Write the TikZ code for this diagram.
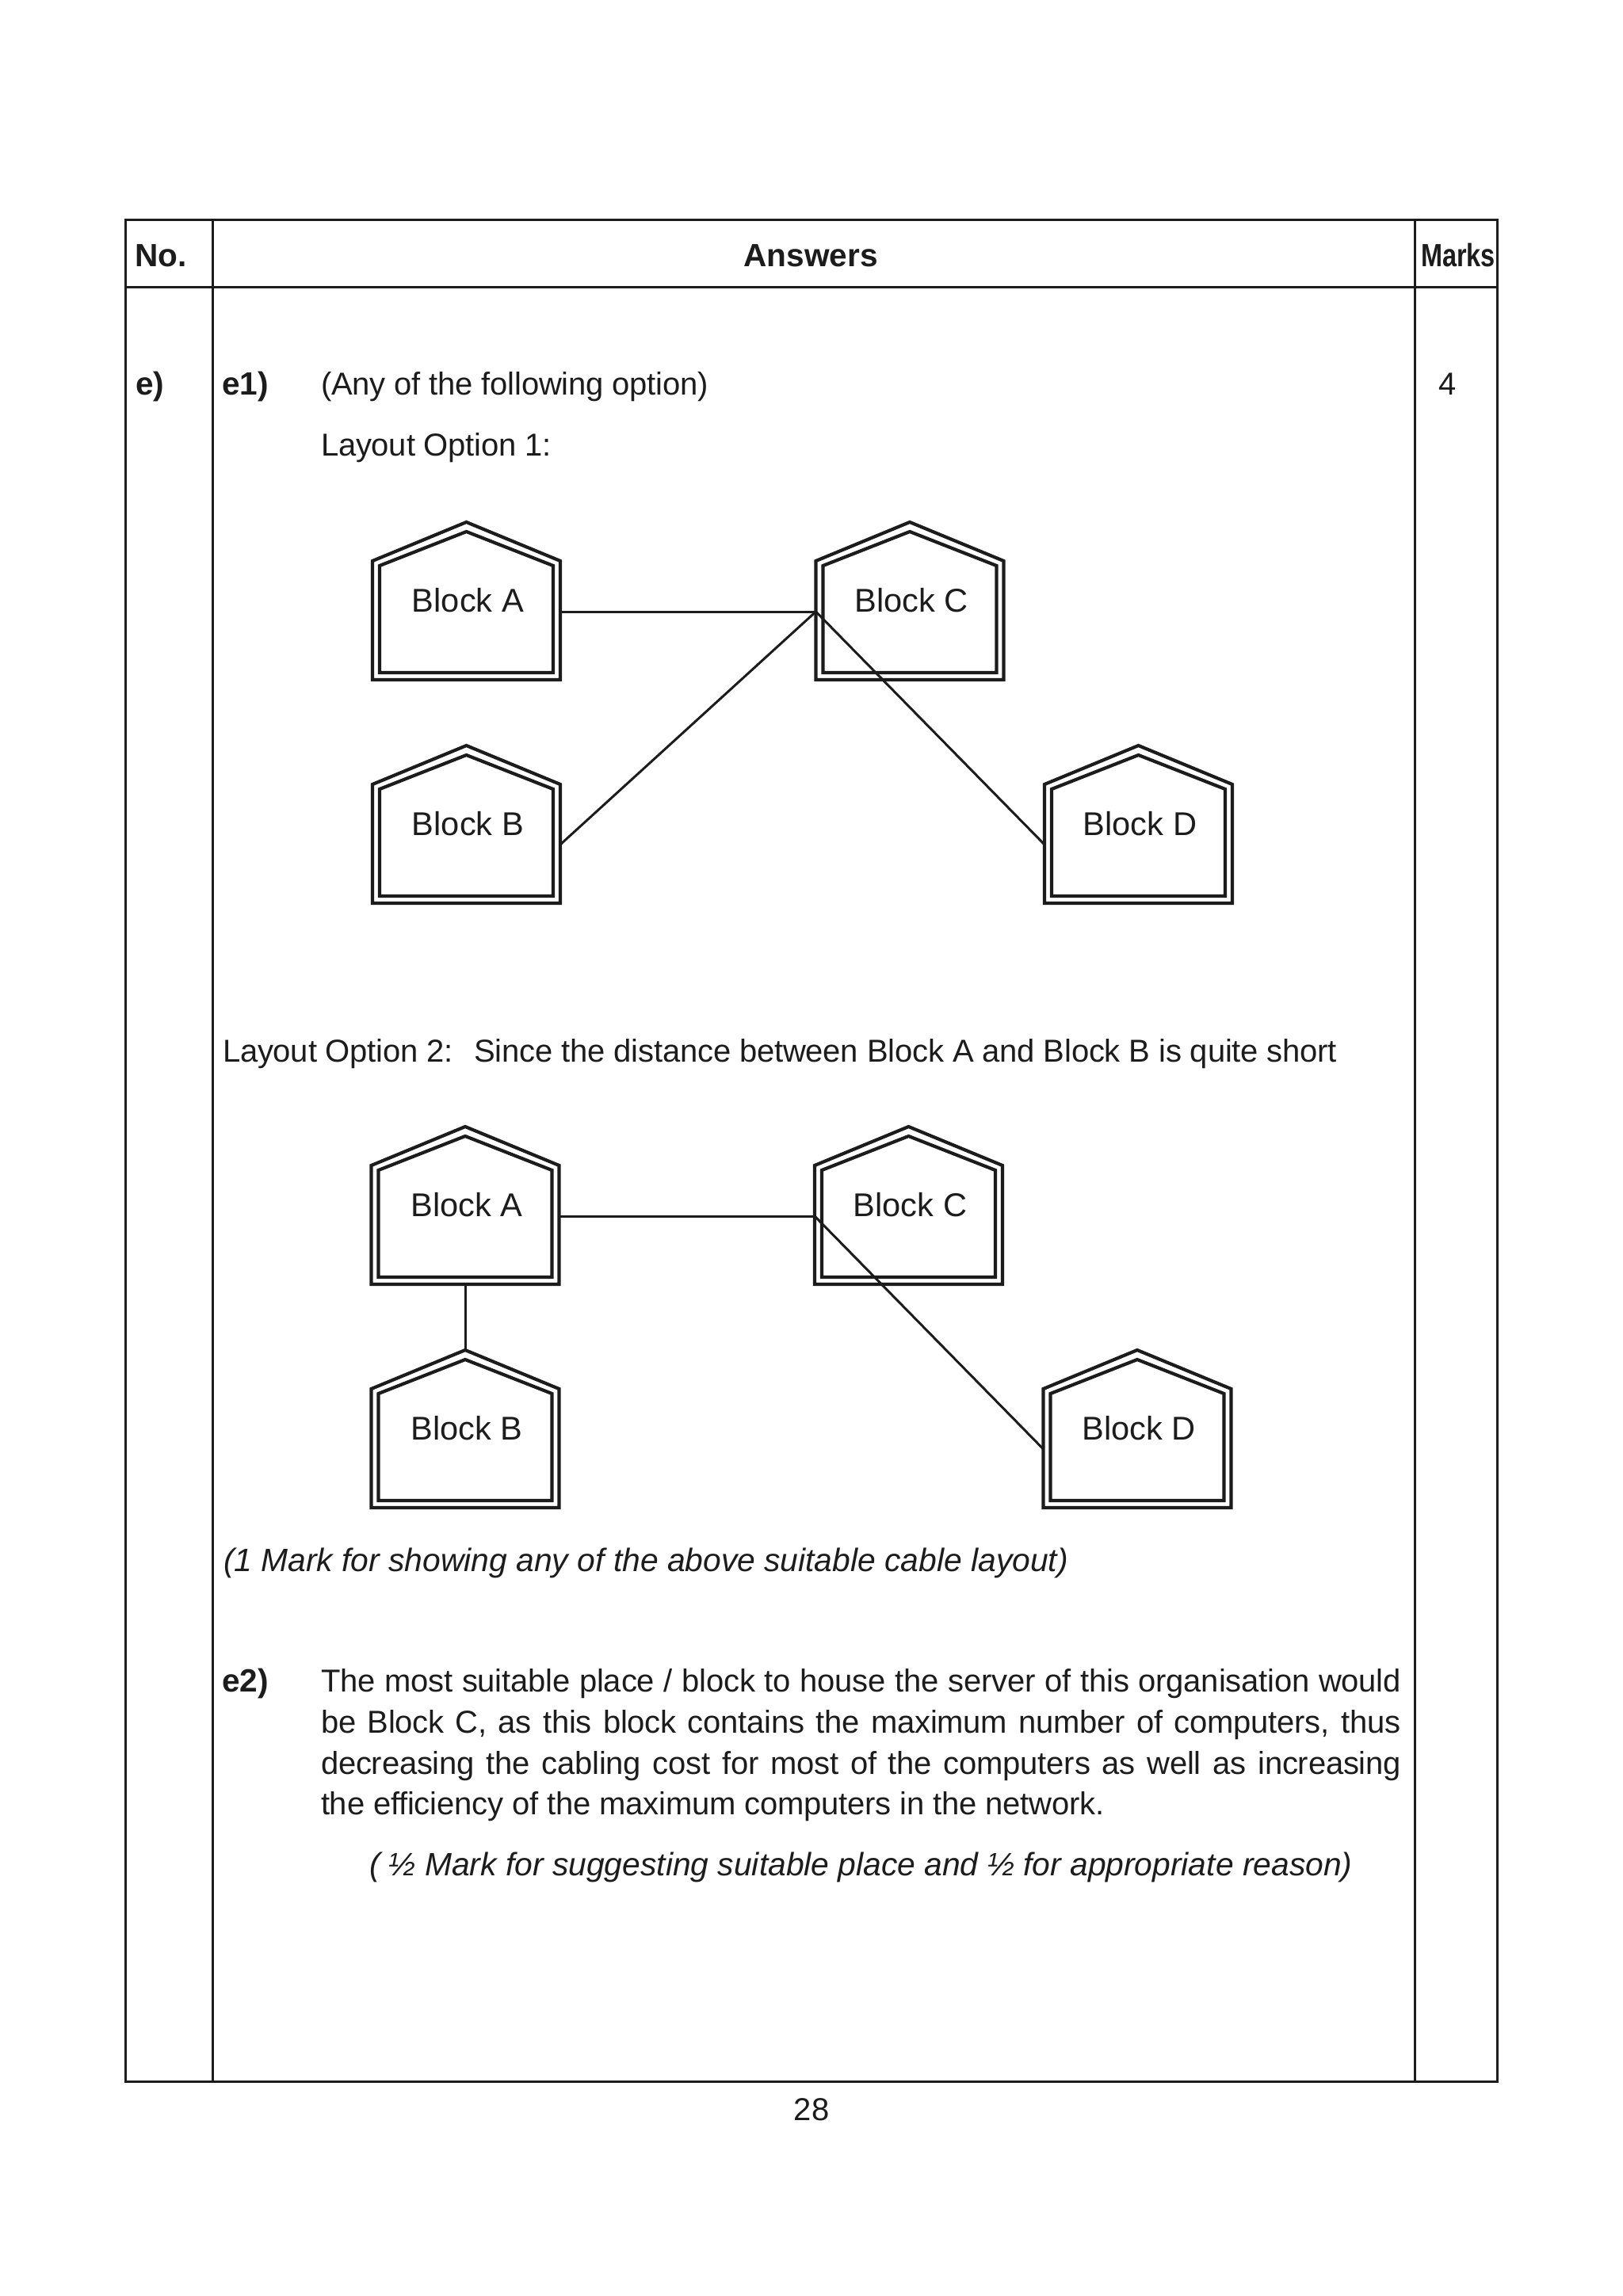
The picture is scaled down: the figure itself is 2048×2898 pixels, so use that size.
\documentclass[tikz,border=0pt]{standalone}
\usepackage{fontspec}
\setmainfont{Liberation Sans}
\newfontfamily\tightfont[LetterSpace=-0.5]{Liberation Sans}
\newlength{\pxu}\setlength{\pxu}{0.5pt}
\definecolor{ink}{HTML}{1C1C1C}
\tikzset{
  rule/.style={draw=ink,line width=1.5pt},
  wall/.style={draw=ink,line width=2.1pt,miter limit=10},
  wire/.style={draw=ink,line width=1.5pt},
  body/.style={anchor=base west,inner sep=0pt,outer sep=0pt,text=ink,font=\fontsize{20pt}{24pt}\selectfont\tightfont},
  bold/.style={anchor=base west,inner sep=0pt,outer sep=0pt,text=ink,font=\fontsize{20.3pt}{24pt}\selectfont\bfseries},
  slant/.style={anchor=base west,inner sep=0pt,outer sep=0pt,text=ink,font=\fontsize{20.4pt}{24pt}\selectfont\itshape},
  blocklabel/.style={anchor=base,inner sep=0pt,outer sep=0pt,text=ink,font=\fontsize{20.8pt}{24pt}\selectfont},
}
% #1 name, #2 left x, #3 top y, #4 label
\newcommand{\houseblock}[4]{%
  \draw[wall] (#2,#3+50) -- (#2+118.5,#3+1) -- (#2+237,#3+50) -- (#2+237,#3+200) -- (#2,#3+200) -- cycle;
  \draw[wall] (#2+9,#3+56) -- (#2+118.5,#3+13) -- (#2+228,#3+56) -- (#2+228,#3+191) -- (#2+9,#3+191) -- cycle;
  \node[blocklabel] (#1-t) at (#2+120.5,#3+114) {#4};
  \coordinate (#1-e) at (#2+237,#3+114);
  \coordinate (#1-w) at (#2,#3+114);
  \coordinate (#1-le) at (#2+237,#3+126);
  \coordinate (#1-lw) at (#2,#3+126);
  \coordinate (#1-s) at (#2+118.5,#3+200);
  \coordinate (#1-n) at (#2+118.5,#3+1);
}
\begin{document}
\begin{tikzpicture}[x=0.5pt,y=-0.5pt]
\useasboundingbox (0,0) rectangle (2048,2898);
% table
\draw[rule] (158,277) rectangle (1889,2627);
\draw[rule] (158,362) -- (1889,362);
\draw[rule] (268,277) -- (268,2627);
\draw[rule] (1785,277) -- (1785,2627);
% header
\node[bold] (hno) at (170,336) {No.};
\node[bold,anchor=base] (hans) at (1023,336) {Answers};
\node[bold,anchor=base,xscale=0.8] (hmarks) at (1840,336) {Marks};
% e1
\node[bold] (le) at (171,498) {e)};
\node[bold] (le1) at (280,498) {e1)};
\node[body] (t1) at (405,498) {(Any of the following option)};
\node[anchor=base,inner sep=0pt,text=ink,font=\fontsize{20pt}{24pt}\selectfont] (m4) at (1827,498) {4};
\node[body] (t2) at (405,575) {Layout Option 1:};
% layout 1
\houseblock{a1}{470}{658}{Block A}
\houseblock{c1}{1029.5}{658}{Block C}
\houseblock{b1}{470}{940}{Block B}
\houseblock{d1}{1318}{940}{Block D}
\draw[wire] (a1-e) -- (c1-w);
\draw[wire] (b1-le) -- (c1-w);
\draw[wire] (c1-w) -- (d1-lw);
\node[body] (t3) at (281,1340) {Layout Option 2:\hspace{0.3em} Since the distance between Block A and Block B is quite short};
% layout 2
\houseblock{a2}{468.5}{1421}{Block A}
\houseblock{c2}{1028}{1421}{Block C}
\houseblock{b2}{468.5}{1703}{Block B}
\houseblock{d2}{1316.5}{1703}{Block D}
\draw[wire] (a2-e) -- (c2-w);
\draw[wire] (a2-s) -- (b2-n);
\draw[wire] (c2-w) -- (d2-lw);
\node[slant] (t4) at (282,1983) {(1 Mark for showing any of the above suitable cable layout)};
% e2
\node[bold] (le2) at (280,2135) {e2)};
\node[body] (p1) at (405,2135) {\makebox[1363\pxu][s]{The most suitable place / block to house the server of this organisation would}};
\node[body] (p2) at (405,2187) {\makebox[1363\pxu][s]{be Block C, as this block contains the maximum number of computers, thus}};
\node[body] (p3) at (405,2239) {\makebox[1363\pxu][s]{decreasing the cabling cost for most of the computers as well as increasing}};
\node[body] (p4) at (405,2290) {the efficiency of the maximum computers in the network.};
\node[slant] (t5) at (466,2367) {( ½ Mark for suggesting suitable place and ½ for appropriate reason)};
\node[anchor=base,inner sep=0pt,text=ink,font=\fontsize{20pt}{24pt}\selectfont] (pg) at (1024,2676) {28};
\end{tikzpicture}
\end{document}
